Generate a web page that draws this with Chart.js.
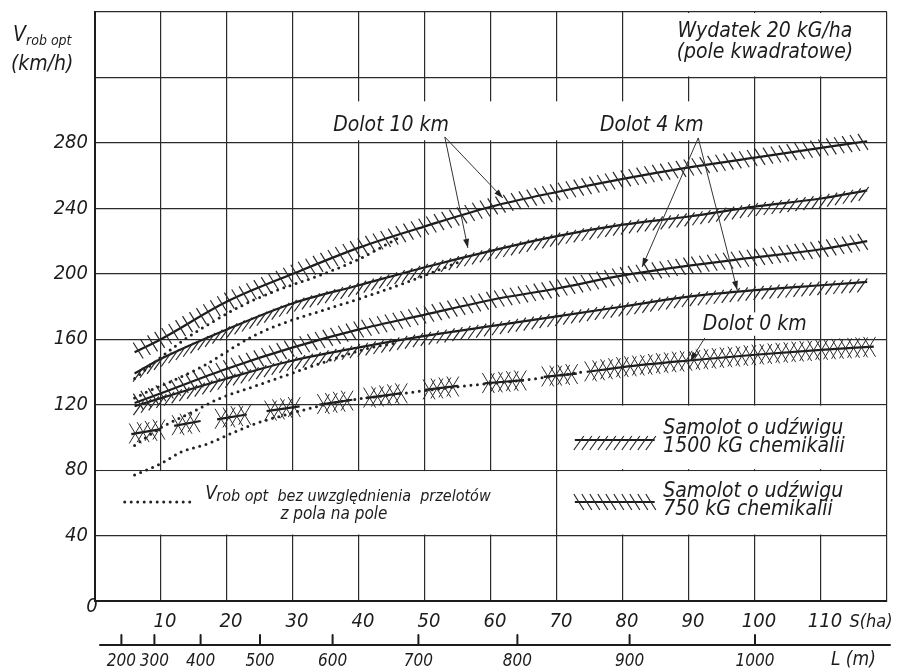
<!DOCTYPE html>
<html>
<head>
<meta charset="utf-8">
<script src="https://cdn.jsdelivr.net/npm/chart.js@4.4.1/dist/chart.umd.min.js"></script>
<style>
  body { margin: 0; background: #fff; }
  canvas { display: block; }
</style>
</head>
<body>
<canvas id="chart" width="898" height="670"></canvas>
<script>
// S (ha) positions where the main curves were read
const sPoints = [6, 10, 20, 30, 40, 50, 60, 70, 80, 90, 100, 110, 117];
const dolot10_750 = [152, 160, 183, 200, 216, 229, 241, 250, 258, 265, 271, 277, 281];
const dolot10_1500 = [139, 148, 166, 182, 193, 204, 214, 223, 230, 235, 241, 246, 251];
const dolot4_750 = [121, 127, 142, 155, 166, 175, 184, 191, 199, 205, 210, 215, 220];
const dolot4_1500 = [119, 124, 136, 147, 155, 162, 168, 174, 180, 186, 190, 193, 195];

// Dolot 0 km: short cross-hatched pieces, null = break
const dolot0S = [5.5, 10, null, 12, 16, null, 18.5, 23, null, 26, 31, null, 34, 39, null, 41, 46.5, null, 50, 55, null, 59, 65, null, 68, 73, null, 74.5, 80, 90, 100, 110, 118];
const dolot0V = [102, 105, null, 107, 110, null, 111, 114, null, 116, 119, null, 120, 123, null, 124, 127, null, 129, 131.5, null, 133, 135, null, 137, 139, null, 140, 143, 147, 150.5, 153.5, 155.5];

// dotted curves (without transfers between fields)
const dotAS = [6, 10, 13, 17, 21, 24, 30, 36, 45, 55, 65, 74];
const dotAV = [77, 84, 91, 96, 103, 108, 115, 121, 126, 131, 135, 140];
const dotBS = [6, 10, 14, 19, 24, 29, 34, 41, 46];
const dotBV = [95, 106, 114, 124, 131, 138, 145, 154, 158];
const dotCS = [6, 8, 12, 17, 21, 24, 28, 34, 41, 48, 55];
const dotCV = [124, 128, 135, 145, 155, 162, 169, 177, 186, 196, 207];
const dotDS = [6, 10, 14, 18, 22, 27, 34, 40, 46];
const dotDV = [136, 149, 161, 171, 180, 189, 199, 209, 222];

const lTicks = [200, 300, 400, 500, 600, 700, 800, 900, 1000];

const FONT = "'Liberation Sans Narrow', 'DejaVu Sans Condensed', 'Liberation Sans', sans-serif";
const INK = '#1c1c1c';

function xy(sArr, vArr) {
  let last = 0;
  return sArr.map((s, i) => {
    if (s !== null) last = s;
    return { x: last, y: vArr[i] };
  });
}

const HATCH = {
  fwd: [[[5, -4], [-5, 10]]],
  back: [[[-5, -8], [5, 8]]],
  cross: [[[6, -10], [-6, 10]], [[-6, -10], [6, 10]]]
};

function walkHatch(ctx, pts, spacing, strokes) {
  let carry = spacing / 2;
  for (let i = 1; i < pts.length; i++) {
    const a = pts[i - 1], b = pts[i];
    const dx = b.x - a.x, dy = b.y - a.y, len = Math.hypot(dx, dy);
    let t = carry;
    while (t <= len) {
      const px = a.x + dx * t / len, py = a.y + dy * t / len;
      strokes.forEach(([[x1, y1], [x2, y2]]) => {
        ctx.moveTo(px + x1, py + y1);
        ctx.lineTo(px + x2, py + y2);
      });
      t += spacing;
    }
    carry = t - len;
  }
}

function solid(label, data, hatch) {
  return { label, data, hatch, borderColor: INK, borderWidth: 2.2, pointRadius: 0,
    cubicInterpolationMode: 'monotone', spanGaps: false, fill: false };
}
function dotted(label, data) {
  return { label, data, borderColor: '#222', borderWidth: 3, borderDash: [0, 6.5],
    borderCapStyle: 'round', pointRadius: 0, cubicInterpolationMode: 'monotone', fill: false };
}

function font(size) { return 'italic ' + size + 'px ' + FONT; }

function text(ctx, str, x, y, size, align) {
  ctx.font = font(size);
  ctx.textAlign = align || 'left';
  ctx.textBaseline = 'middle';
  ctx.fillStyle = INK;
  ctx.fillText(str, x, y);
}

function arrow(ctx, x1, y1, x2, y2) {
  ctx.beginPath();
  ctx.moveTo(x1, y1);
  ctx.lineTo(x2, y2);
  ctx.stroke();
  const a = Math.atan2(y2 - y1, x2 - x1);
  ctx.beginPath();
  ctx.moveTo(x2, y2);
  ctx.lineTo(x2 - 9 * Math.cos(a) + 3 * Math.sin(a), y2 - 9 * Math.sin(a) - 3 * Math.cos(a));
  ctx.lineTo(x2 - 9 * Math.cos(a) - 3 * Math.sin(a), y2 - 9 * Math.sin(a) + 3 * Math.cos(a));
  ctx.closePath();
  ctx.fill();
}

const paperPlugin = {
  id: 'paper',
  beforeDatasetsDraw(chart) {
    const { ctx, scales: { x, y } } = chart;
    // white label boxes that cover the grid
    const boxes = [[80, 320, 120, 360], [34, 281, 95, 306], [91, 161.5, 109, 177],
      [70, 80, 120, 120], [0, 40, 70, 80], [70, 40, 120, 80]];
    ctx.save();
    ctx.fillStyle = '#fff';
    boxes.forEach(([s1, v1, s2, v2]) => {
      const l = x.getPixelForValue(s1) + 1.5, r = x.getPixelForValue(s2) - 1;
      const t = y.getPixelForValue(v2) + 1, b = y.getPixelForValue(v1) - 1;
      ctx.fillRect(l, t, r - l, b - t);
    });
    ctx.restore();
  },
  afterDatasetsDraw(chart) {
    const ctx = chart.ctx;
    ctx.save();
    ctx.strokeStyle = '#2a2a2a';
    chart.data.datasets.forEach((ds, i) => {
      if (!ds.hatch) return;
      const runs = [];
      let run = [];
      chart.getDatasetMeta(i).data.forEach(p => {
        if (p.skip) { if (run.length) runs.push(run); run = []; }
        else run.push({ x: p.x, y: p.y });
      });
      if (run.length) runs.push(run);
      ctx.lineWidth = ds.hatch === 'cross' ? 1 : 1.2;
      ctx.beginPath();
      runs.forEach(r => walkHatch(ctx, r, 8, HATCH[ds.hatch]));
      ctx.stroke();
    });
    ctx.restore();
  },
  afterDraw(chart) {
    const { ctx, scales: { x, y, x2 }, chartArea } = chart;
    const P = (s, v) => [x.getPixelForValue(s), y.getPixelForValue(v)];
    ctx.save();

    // axis title
    text(ctx, 'V', 13, 36, 21);
    text(ctx, 'rob opt', 26, 41, 14);
    text(ctx, '(km/h)', 11, 65, 21);

    // title box
    let p = P(101.5, 348);
    text(ctx, 'Wydatek 20 kG/ha', p[0], p[1], 21, 'center');
    p = P(101.5, 335);
    text(ctx, '(pole kwadratowe)', p[0], p[1], 21, 'center');

    // curve labels and arrows
    p = P(36.1, 290.3); text(ctx, 'Dolot 10 km', p[0], p[1], 21);
    p = P(76.5, 290.3); text(ctx, 'Dolot 4 km', p[0], p[1], 21);
    p = P(92.1, 168.7); text(ctx, 'Dolot 0 km', p[0], p[1], 21);
    ctx.strokeStyle = '#333';
    ctx.fillStyle = '#222';
    ctx.lineWidth = 1;
    [[[53, 283.6], [61.8, 246.3]], [[53, 283.6], [56.5, 215.8]],
     [[91.4, 283], [82.9, 204.2]], [[91.4, 283], [97.3, 190.1]],
     [[92.4, 160.8], [90.2, 146.7]]].forEach(([a, b]) => {
      const pa = P(a[0], a[1]), pb = P(b[0], b[1]);
      arrow(ctx, pa[0], pa[1], pb[0], pb[1]);
    });

    // legend: aircraft payload
    const legendLine = (v, style) => {
      const a = P(72.7, v), b = P(84.8, v);
      ctx.strokeStyle = INK; ctx.lineWidth = 2.2;
      ctx.beginPath(); ctx.moveTo(a[0], a[1]); ctx.lineTo(b[0], b[1]); ctx.stroke();
      ctx.strokeStyle = '#2a2a2a'; ctx.lineWidth = 1.2;
      ctx.beginPath();
      walkHatch(ctx, [{ x: a[0], y: a[1] }, { x: b[0], y: b[1] }], 8, HATCH[style]);
      ctx.stroke();
    };
    legendLine(98.4, 'fwd');
    legendLine(60.5, 'back');
    p = P(86.1, 105.7); text(ctx, 'Samolot o udźwigu', p[0], p[1], 21);
    p = P(86.1, 94.1); text(ctx, '1500 kG chemikalii', p[0], p[1], 21);
    p = P(86.1, 67.2); text(ctx, 'Samolot o udźwigu', p[0], p[1], 21);
    p = P(86.1, 56.2); text(ctx, '750 kG chemikalii', p[0], p[1], 21);

    // legend: dotted
    const d1 = P(4.5, 60.5), d2 = P(14.4, 60.5);
    ctx.strokeStyle = '#222'; ctx.lineWidth = 3; ctx.lineCap = 'round';
    ctx.setLineDash([0, 6.5]);
    ctx.beginPath(); ctx.moveTo(d1[0], d1[1]); ctx.lineTo(d2[0], d2[1]); ctx.stroke();
    ctx.setLineDash([]);
    p = P(16.7, 65.4);
    text(ctx, 'V', p[0], p[1], 19);
    text(ctx, 'rob opt  bez uwzględnienia  przelotów', p[0] + 11, p[1] + 3, 16);
    p = P(36.2, 52.6);
    text(ctx, 'z pola na pole', p[0], p[1], 17, 'center');

    // axis extras
    text(ctx, '0', chartArea.left - 3, chartArea.bottom + 6, 20, 'center');
    text(ctx, 'S(ha)', x.getPixelForValue(114.3), 622, 18);
    const yl = x2.top + 12;
    ctx.strokeStyle = INK; ctx.lineWidth = 2;
    ctx.beginPath();
    ctx.moveTo(chartArea.left + 5, yl); ctx.lineTo(chartArea.right + 3, yl);
    x2.ticks.forEach(t => {
      const px = x2.getPixelForValue(t.value);
      ctx.moveTo(px, yl - 10); ctx.lineTo(px, yl);
    });
    ctx.stroke();
    text(ctx, 'L (m)', x.getPixelForValue(111.5), 660, 19);
    ctx.restore();
  }
};

new Chart(document.getElementById('chart'), {
  type: 'line',
  data: {
    datasets: [
      dotted('bez przelotów A', xy(dotAS, dotAV)),
      dotted('bez przelotów B', xy(dotBS, dotBV)),
      dotted('bez przelotów C', xy(dotCS, dotCV)),
      dotted('bez przelotów D', xy(dotDS, dotDV)),
      solid('Dolot 10 km, 750 kG', xy(sPoints, dolot10_750), 'back'),
      solid('Dolot 10 km, 1500 kG', xy(sPoints, dolot10_1500), 'fwd'),
      solid('Dolot 4 km, 750 kG', xy(sPoints, dolot4_750), 'back'),
      solid('Dolot 4 km, 1500 kG', xy(sPoints, dolot4_1500), 'fwd'),
      solid('Dolot 0 km', xy(dolot0S, dolot0V), 'cross')
    ]
  },
  options: {
    responsive: false,
    animation: false,
    devicePixelRatio: 1,
    layout: { padding: { top: 12, right: 11, left: 0, bottom: 0 } },
    plugins: { legend: { display: false }, tooltip: { enabled: false } },
    scales: {
      x: {
        type: 'linear', position: 'bottom', min: 0, max: 120, weight: 0,
        grid: { color: '#2a2a2a', lineWidth: 1.2, drawTicks: false },
        border: { color: INK, width: 2 },
        ticks: {
          stepSize: 10, autoSkip: false, maxRotation: 0, padding: 9, labelOffset: 4,
          color: INK, font: { family: FONT, size: 20, style: 'italic' },
          callback: v => (v > 0 && v <= 110) ? v : ''
        },
        afterFit: s => { s.height = 32; }
      },
      x2: {
        type: 'linear', position: 'bottom', min: 0, max: 120, weight: 1,
        grid: { display: false }, border: { display: false },
        afterBuildTicks: s => { s.ticks = lTicks.map(l => ({ value: (l / 100) * (l / 100) })); },
        ticks: {
          autoSkip: false, maxRotation: 0, padding: 10,
          color: INK, font: { family: FONT, size: 17, style: 'italic' },
          callback: (v, i) => lTicks[i]
        },
        afterFit: s => { s.height = 37; }
      },
      y: {
        min: 0, max: 360,
        grid: { color: '#2a2a2a', lineWidth: 1.2, drawTicks: false },
        border: { color: INK, width: 2 },
        ticks: {
          stepSize: 40, padding: 7, color: INK,
          font: { family: FONT, size: 20, style: 'italic' },
          callback: v => (v > 0 && v <= 280) ? v : ''
        },
        afterFit: s => { s.width = 95; s.paddingTop = 0; s.paddingBottom = 0; }
      }
    }
  },
  plugins: [paperPlugin]
});
</script>
</body>
</html>
